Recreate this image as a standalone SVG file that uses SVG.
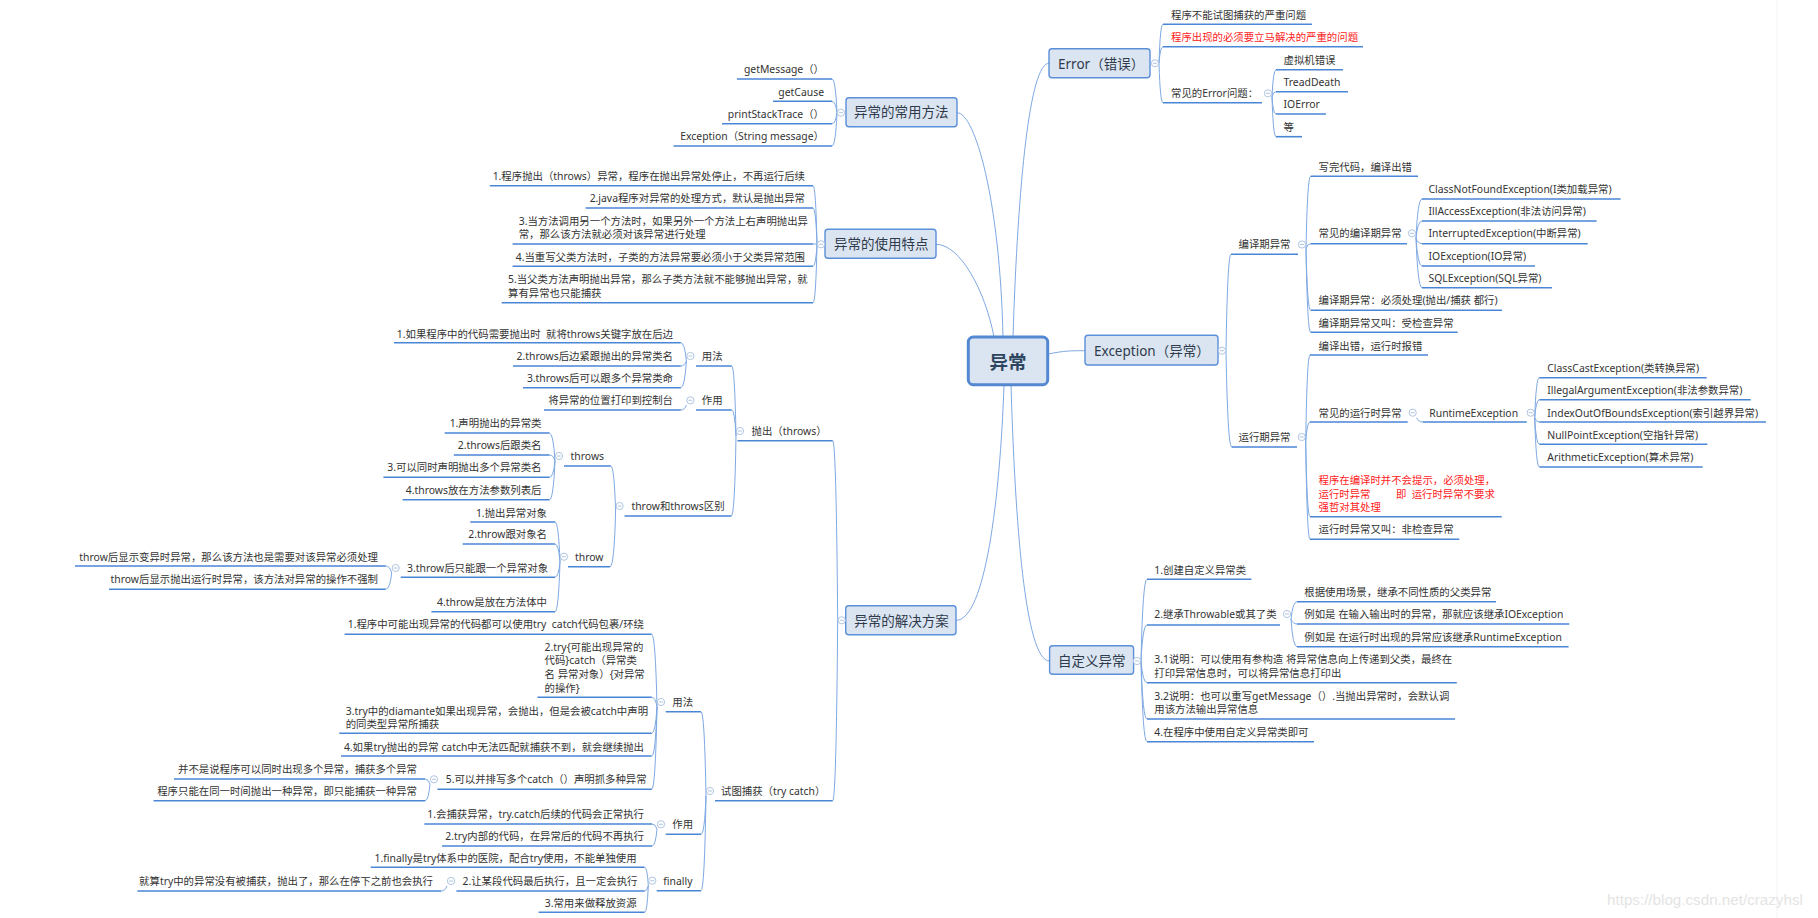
<svg xmlns="http://www.w3.org/2000/svg" xmlns:xlink="http://www.w3.org/1999/xlink" width="1818" height="918" viewBox="0 0 1818 918">
<style>
text{font-family:"Noto Sans","Noto Sans CJK SC",sans-serif;font-size:10.4px;fill:#333}
.r{fill:#ff1a1a}
.e{text-anchor:end}
.m{font-size:13.5px;fill:#2f3b4c}
.box{fill:#dbe5f1;stroke:#5b8fd9;stroke-width:1.4}
.ul{stroke:#4a86d6;stroke-width:1.6;fill:none}
.c path{stroke:#7ea9e3;stroke-width:1;fill:none}
.wm{font-family:"Liberation Sans",Arial,sans-serif;font-size:15.2px;fill:#e4e4e4}
</style>
<defs>
<g id="col"><circle r="3.6" fill="#fff" stroke="#a7bedf" stroke-width="0.9"/><line x1="-2" y1="0" x2="2" y2="0" stroke="#a7bedf" stroke-width="0.9"/></g>
</defs>
<rect width="1818" height="918" fill="#fff"/>
<line x1="1777" y1="0" x2="1777" y2="918" stroke="#f4f4f4" stroke-width="1"/>

<g id="connectors" class="c">
<path d="M957 112.7 C975 112.7 1000 200 1003 337"/>
<path d="M936 244.3 C960 244.3 985 290 994 337"/>
<path d="M1013 337 C1018 180 1030 63.3 1049 63.3"/>
<path d="M1048 354 C1065 350.7 1070 350.7 1085 350.7"/>
<path d="M1004 385 C1000 500 985 620.3 956 620.3"/>
<path d="M1011 385 C1015 520 1025 661 1049.6 661"/>
<path d="M1159 63.3 Q1160.2 24.3 1163 24.3"/>
<path d="M1159 63.3 Q1160.2 46.7 1163 46.7"/>
<path d="M1159 63.3 Q1160.2 102.7 1163 102.7"/>
<path d="M1272 97 Q1273.2 69.7 1276 69.7"/>
<path d="M1272 97 Q1273.2 91.7 1276 91.7"/>
<path d="M1272 97 Q1273.2 114 1276 114"/>
<path d="M1272 97 Q1273.2 136.7 1276 136.7"/>
<path d="M1226 350.7 Q1227.5 254.3 1231 254.3"/>
<path d="M1226 350.7 Q1227.7 447 1231.7 447"/>
<path d="M1306 249 Q1307.4 176.3 1310.6 176.3"/>
<path d="M1306 249 Q1307.4 243.7 1310.6 243.7"/>
<path d="M1306 249 Q1307.4 310.3 1310.6 310.3"/>
<path d="M1306 249 Q1307.4 332.3 1310.6 332.3"/>
<path d="M1416 238 Q1417.8 199 1422 199"/>
<path d="M1416 238 Q1417.8 221 1422 221"/>
<path d="M1416 238 Q1417.8 243.7 1422 243.7"/>
<path d="M1416 238 Q1417.8 266 1422 266"/>
<path d="M1416 238 Q1417.8 287.7 1422 287.7"/>
<path d="M1305.7 442 Q1307 355 1310 355"/>
<path d="M1305.7 442 Q1307 422 1310 422"/>
<path d="M1305.7 442 Q1307 516.7 1310 516.7"/>
<path d="M1305.7 442 Q1307 539.3 1310 539.3"/>
<path d="M1416.7 417.7 Q1418.5 422 1422.7 422"/>
<path d="M1534.7 417.7 Q1536.1 377.7 1539.3 377.7"/>
<path d="M1534.7 417.7 Q1536.1 399.7 1539.3 399.7"/>
<path d="M1534.7 417.7 Q1536.1 422 1539.3 422"/>
<path d="M1534.7 417.7 Q1536.1 444.3 1539.3 444.3"/>
<path d="M1534.7 417.7 Q1536.1 467 1539.3 467"/>
<path d="M1141 661 Q1142.8 579.3 1147 579.3"/>
<path d="M1141 661 Q1142.8 625 1147 625"/>
<path d="M1141 661 Q1142.8 682.7 1147 682.7"/>
<path d="M1141 661 Q1142.8 719 1147 719"/>
<path d="M1141 661 Q1142.8 741.7 1147 741.7"/>
<path d="M1291 619 Q1292.8 601.7 1297 601.7"/>
<path d="M1291 619 Q1292.8 624 1297 624"/>
<path d="M1291 619 Q1292.8 646.7 1297 646.7"/>
<path d="M837 112.7 Q835.5 79 832 79"/>
<path d="M837 112.7 Q835.5 101.3 832 101.3"/>
<path d="M837 112.7 Q835.5 123.7 832 123.7"/>
<path d="M837 112.7 Q835.5 146 832 146"/>
<path d="M817 244.3 Q815.8 185.7 813 185.7"/>
<path d="M817 244.3 Q815.8 208 813 208"/>
<path d="M817 244.3 Q815.8 244 813 244"/>
<path d="M817 244.3 Q815.8 266.3 813 266.3"/>
<path d="M817 244.3 Q815.8 302.7 813 302.7"/>
<path d="M837.7 620.3 Q836.2 440.7 832.7 440.7"/>
<path d="M837.7 620.3 Q836.2 800.7 832.7 800.7"/>
<path d="M736 436 Q734.7 366 731.7 366"/>
<path d="M736 436 Q734.7 410 731.7 410"/>
<path d="M736 436 Q734.7 516 731.3 516"/>
<path d="M686.4 361 Q684.7 342.7 680.8 342.7"/>
<path d="M686.4 361 Q684.7 366 680.8 366"/>
<path d="M686.4 361 Q684.7 387.7 680.8 387.7"/>
<path d="M686.4 405 Q684.7 410 680.8 410"/>
<path d="M615.6 511 Q614.2 466 610.8 466"/>
<path d="M615.6 511 Q614.2 566.7 610 566.7"/>
<path d="M555 461 Q553.3 433 549.5 433"/>
<path d="M555 461 Q553.3 455 549.5 455"/>
<path d="M555 461 Q553.3 477.3 549.5 477.3"/>
<path d="M555 461 Q553.3 499.7 549.5 499.7"/>
<path d="M560 561.7 Q558.5 522 555 522"/>
<path d="M560 561.7 Q558.5 544 555 544"/>
<path d="M560 561.7 Q558.5 577.3 555 577.3"/>
<path d="M560 561.7 Q558.5 611.7 555 611.7"/>
<path d="M391.7 573 Q389.9 566 385.7 566"/>
<path d="M391.7 573 Q389.9 589.3 385.7 589.3"/>
<path d="M706 796 Q704.5 711.7 701 711.7"/>
<path d="M706 796 Q704.5 834.3 701 834.3"/>
<path d="M706 796 Q704.5 890.7 701 890.7"/>
<path d="M657 707 Q655.4 634.3 651.7 634.3"/>
<path d="M657 707 Q655.4 697.3 651.7 697.3"/>
<path d="M657 707 Q655.4 733.3 651.7 733.3"/>
<path d="M657 707 Q655.4 756 651.7 756"/>
<path d="M657 707 Q655.4 789.3 651.7 789.3"/>
<path d="M430 784 Q428.5 779 425 779"/>
<path d="M430 784 Q428.5 800.7 425 800.7"/>
<path d="M657 829 Q655.5 824 652 824"/>
<path d="M657 829 Q655.5 846 652 846"/>
<path d="M648.3 885.7 Q647.2 867.3 644.6 867.3"/>
<path d="M648.3 885.7 Q647.2 891 644.6 891"/>
<path d="M648.3 885.7 Q647.2 912.3 644.6 912.3"/>
<path d="M447 886 Q445.2 891 441 891"/>
</g>

<g id="n-root">
<rect x="968.3" y="337" width="79.4" height="47.7" rx="5" fill="#dbe5f1" stroke="#5588d2" stroke-width="3"/>
<text x="1008" y="368.8" text-anchor="middle" style="font-size:18.5px;font-weight:700;fill:#2e4560">异常</text>
</g>

<g id="n-error"><rect class="box" x="1049" y="48.7" width="101" height="29" rx="3"/><text class="m" x="1058" y="68.5">Error（错误）</text><use xlink:href="#col" x="1155" y="63.3"/></g>
<g id="n-methods"><rect class="box" x="846" y="97.7" width="111" height="29" rx="3"/><text class="m" x="854" y="117">异常的常用方法</text><use xlink:href="#col" x="841" y="112.7"/></g>
<g id="n-features"><rect class="box" x="825" y="229.3" width="111" height="29" rx="3"/><text class="m" x="834" y="249">异常的使用特点</text><use xlink:href="#col" x="821" y="244.3"/></g>
<g id="n-exception"><rect class="box" x="1085" y="335.3" width="133" height="29.7" rx="3"/><text class="m" x="1094" y="355.7">Exception（异常）</text><use xlink:href="#col" x="1222" y="350.7"/></g>
<g id="n-solutions"><rect class="box" x="845.7" y="605.7" width="110.3" height="29" rx="3"/><text class="m" x="854.3" y="626">异常的解决方案</text><use xlink:href="#col" x="841.7" y="620.3"/></g>
<g id="n-custom"><rect class="box" x="1049.6" y="645.7" width="84" height="28.6" rx="3"/><text class="m" x="1057.9" y="666">自定义异常</text><use xlink:href="#col" x="1137" y="661"/></g>

<g id="n-e1"><text x="1171" y="18.9">程序不能试图捕获的严重问题</text><line class="ul" x1="1163" y1="24.3" x2="1312" y2="24.3"/></g>
<g id="n-e2"><text class="r" x="1171" y="40.6">程序出现的必须要立马解决的严重的问题</text><line class="ul" x1="1163" y1="46.7" x2="1363" y2="46.7"/></g>
<g id="n-e3"><text x="1171" y="97.2">常见的Error问题：</text><line class="ul" x1="1163" y1="102.7" x2="1262" y2="102.7"/><use xlink:href="#col" x="1268" y="93.3"/></g>
<g id="n-e31"><text x="1283.5" y="63.9">虚拟机错误</text><line class="ul" x1="1276" y1="69.7" x2="1343" y2="69.7"/></g>
<g id="n-e32"><text x="1283.5" y="85.6">TreadDeath</text><line class="ul" x1="1276" y1="91.7" x2="1348" y2="91.7"/></g>
<g id="n-e33"><text x="1283.5" y="107.9">IOError</text><line class="ul" x1="1276" y1="114" x2="1326" y2="114"/></g>
<g id="n-e34"><text x="1283.5" y="130.6">等</text><line class="ul" x1="1276" y1="136.7" x2="1302" y2="136.7"/></g>

<g id="n-compile"><text x="1238.5" y="248.2">编译期异常</text><line class="ul" x1="1231" y1="254.3" x2="1298" y2="254.3"/><use xlink:href="#col" x="1302" y="244.5"/></g>
<g id="n-c1"><text x="1318.5" y="170.6">写完代码，编译出错</text><line class="ul" x1="1310.6" y1="176.3" x2="1418" y2="176.3"/></g>
<g id="n-c2"><text x="1318.5" y="237.2">常见的编译期异常</text><line class="ul" x1="1310.6" y1="243.7" x2="1407" y2="243.7"/><use xlink:href="#col" x="1412" y="233.3"/></g>
<g id="n-c21"><text x="1428.5" y="192.6">ClassNotFoundException(I类加载异常)</text><line class="ul" x1="1422" y1="199" x2="1620.6" y2="199"/></g>
<g id="n-c22"><text x="1428.5" y="214.9">IllAccessException(非法访问异常)</text><line class="ul" x1="1422" y1="221" x2="1596.6" y2="221"/></g>
<g id="n-c23"><text x="1428.5" y="237.2">InterruptedException(中断异常)</text><line class="ul" x1="1422" y1="243.7" x2="1587.7" y2="243.7"/></g>
<g id="n-c24"><text x="1428.5" y="259.6">IOException(IO异常)</text><line class="ul" x1="1422" y1="266" x2="1535" y2="266"/></g>
<g id="n-c25"><text x="1428.5" y="281.9">SQLException(SQL异常)</text><line class="ul" x1="1422" y1="287.7" x2="1552" y2="287.7"/></g>
<g id="n-c3"><text x="1318.5" y="303.9">编译期异常：必须处理(抛出/捕获 都行)</text><line class="ul" x1="1310.6" y1="310.3" x2="1502" y2="310.3"/></g>
<g id="n-c4"><text x="1318.5" y="326.6">编译期异常又叫：受检查异常</text><line class="ul" x1="1310.6" y1="332.3" x2="1457.7" y2="332.3"/></g>

<g id="n-runtime"><text x="1238.5" y="440.9">运行期异常</text><line class="ul" x1="1231.7" y1="447" x2="1297" y2="447"/><use xlink:href="#col" x="1301.7" y="437"/></g>
<g id="n-r1"><text x="1318.5" y="349.9">编译出错，运行时报错</text><line class="ul" x1="1310" y1="355" x2="1428" y2="355"/></g>
<g id="n-r2"><text x="1318.5" y="416.6">常见的运行时异常</text><line class="ul" x1="1310" y1="422" x2="1407.7" y2="422"/><use xlink:href="#col" x="1412.7" y="412.7"/></g>
<g id="n-r21"><text x="1429.3" y="416.6">RuntimeException</text><line class="ul" x1="1422.7" y1="422" x2="1526.7" y2="422"/><use xlink:href="#col" x="1530.7" y="412.7"/></g>
<g id="n-r211"><text x="1547.3" y="371.6">ClassCastException(类转换异常)</text><line class="ul" x1="1539.3" y1="377.7" x2="1706.7" y2="377.7"/></g>
<g id="n-r212"><text x="1547.3" y="393.9">IllegalArgumentException(非法参数异常)</text><line class="ul" x1="1539.3" y1="399.7" x2="1750.7" y2="399.7"/></g>
<g id="n-r213"><text x="1547.3" y="416.6">IndexOutOfBoundsException(索引越界异常)</text><line class="ul" x1="1539.3" y1="422" x2="1766" y2="422"/></g>
<g id="n-r214"><text x="1547.3" y="438.6">NullPointException(空指针异常)</text><line class="ul" x1="1539.3" y1="444.3" x2="1707.3" y2="444.3"/></g>
<g id="n-r215"><text x="1547.3" y="461.2">ArithmeticException(算术异常)</text><line class="ul" x1="1539.3" y1="467" x2="1702.7" y2="467"/></g>
<g id="n-r3"><text class="r"><tspan x="1318.5" y="483.6">程序在编译时并不会提示，必须处理，</tspan><tspan x="1318.5" y="497.6">运行时异常</tspan><tspan x="1396" y="497.6">即</tspan><tspan x="1411.7" y="497.6">运行时异常不要求</tspan><tspan x="1318.5" y="511.2">强哲对其处理</tspan></text><line class="ul" x1="1310" y1="516.7" x2="1501.7" y2="516.7"/></g>
<g id="n-r4"><text x="1318.5" y="533.2">运行时异常又叫：非检查异常</text><line class="ul" x1="1310" y1="539.3" x2="1459.3" y2="539.3"/></g>

<g id="n-u1"><text x="1154.3" y="573.9">1.创建自定义异常类</text><line class="ul" x1="1147" y1="579.3" x2="1251.4" y2="579.3"/></g>
<g id="n-u2"><text x="1154.3" y="617.9">2.继承Throwable或其了类</text><line class="ul" x1="1147" y1="625" x2="1280" y2="625"/><use xlink:href="#col" x="1287" y="614"/></g>
<g id="n-u21"><text x="1304.3" y="596.2">根据使用场景，继承不同性质的父类异常</text><line class="ul" x1="1297" y1="601.7" x2="1496" y2="601.7"/></g>
<g id="n-u22"><text x="1304.3" y="617.9">例如是 在输入输出时的异常，那就应该继承IOException</text><line class="ul" x1="1297" y1="624" x2="1569.3" y2="624"/></g>
<g id="n-u23"><text x="1304.3" y="640.6">例如是 在运行时出现的异常应该继承RuntimeException</text><line class="ul" x1="1297" y1="646.7" x2="1568.6" y2="646.7"/></g>
<g id="n-u3"><text><tspan x="1154.3" y="662.9">3.1说明：可以使用有参构造 将异常信息向上传递到父类，最终在</tspan><tspan x="1154.3" y="676.6">打印异常信息时，可以将异常信息打印出</tspan></text><line class="ul" x1="1147" y1="682.7" x2="1456.8" y2="682.7"/></g>
<g id="n-u4"><text><tspan x="1154.3" y="699.9">3.2说明：也可以重写getMessage（）.当抛出异常时，会默认调</tspan><tspan x="1154.3" y="713.2">用该方法输出异常信息</tspan></text><line class="ul" x1="1147" y1="719" x2="1455" y2="719"/></g>
<g id="n-u5"><text x="1154.3" y="735.6">4.在程序中使用自定义异常类即可</text><line class="ul" x1="1147" y1="741.7" x2="1314" y2="741.7"/></g>

<g id="n-m1"><text class="e" x="824" y="73.2">getMessage（）</text><line class="ul" x1="737" y1="79" x2="832" y2="79"/></g>
<g id="n-m2"><text class="e" x="824" y="95.6">getCause</text><line class="ul" x1="773" y1="101.3" x2="832" y2="101.3"/></g>
<g id="n-m3"><text class="e" x="824" y="117.9">printStackTrace（）</text><line class="ul" x1="722" y1="123.7" x2="832" y2="123.7"/></g>
<g id="n-m4"><text class="e" x="824" y="139.9">Exception（String message）</text><line class="ul" x1="673.6" y1="146" x2="832" y2="146"/></g>

<g id="n-f1"><text class="e" x="805" y="179.6">1.程序抛出（throws）异常，程序在抛出异常处停止，不再运行后续</text><line class="ul" x1="489.8" y1="185.7" x2="813" y2="185.7"/></g>
<g id="n-f2"><text class="e" x="805" y="202.2">2.java程序对异常的处理方式，默认是抛出异常</text><line class="ul" x1="585.6" y1="208" x2="813" y2="208"/></g>
<g id="n-f3"><text><tspan x="518.7" y="224.6">3.当方法调用另一个方法时，如果另外一个方法上右声明抛出异</tspan><tspan x="518.7" y="238.2">常，那么该方法就必须对该异常进行处理</tspan></text><line class="ul" x1="512.6" y1="244" x2="813" y2="244"/></g>
<g id="n-f4"><text class="e" x="805" y="260.6">4.当重写父类方法时，子类的方法异常要必须小于父类异常范围</text><line class="ul" x1="512.6" y1="266.3" x2="813" y2="266.3"/></g>
<g id="n-f5"><text><tspan x="508" y="282.6">5.当父类方法声明抛出异常，那么子类方法就不能够抛出异常，就</tspan><tspan x="508" y="297.2">算有异常也只能捕获</tspan></text><line class="ul" x1="501.7" y1="302.7" x2="813" y2="302.7"/></g>

<g id="n-s1"><text x="751.6" y="434.9">抛出（throws）</text><line class="ul" x1="737.4" y1="440.7" x2="832.7" y2="440.7"/><use xlink:href="#col" x="740" y="431"/></g>
<g id="n-s11"><text x="701.8" y="359.9">用法</text><line class="ul" x1="696" y1="366" x2="731.7" y2="366"/><use xlink:href="#col" x="690.4" y="356"/></g>
<g id="n-s111"><text class="e" x="673" y="337.6">1.如果程序中的代码需要抛出时&#160;&#160;就将throws关键字放在后边</text><line class="ul" x1="394" y1="342.7" x2="680.8" y2="342.7"/></g>
<g id="n-s112"><text class="e" x="673" y="359.9">2.throws后边紧跟抛出的异常类名</text><line class="ul" x1="513" y1="366" x2="680.8" y2="366"/></g>
<g id="n-s113"><text class="e" x="673" y="381.9">3.throws后可以跟多个异常类命</text><line class="ul" x1="523" y1="387.7" x2="680.8" y2="387.7"/></g>
<g id="n-s12"><text x="701.8" y="404.2">作用</text><line class="ul" x1="696" y1="410" x2="731.7" y2="410"/><use xlink:href="#col" x="690.4" y="400.3"/></g>
<g id="n-s121"><text class="e" x="673" y="404.2">将异常的位置打印到控制台</text><line class="ul" x1="544" y1="410" x2="680.8" y2="410"/></g>
<g id="n-s13"><text x="631.4" y="509.9">throw和throws区别</text><line class="ul" x1="624.5" y1="516" x2="731.3" y2="516"/><use xlink:href="#col" x="619.6" y="506"/></g>
<g id="n-s131"><text x="570.6" y="459.9">throws</text><line class="ul" x1="564" y1="466" x2="610.8" y2="466"/><use xlink:href="#col" x="559" y="456"/></g>
<g id="n-s1311"><text class="e" x="541.5" y="426.6">1.声明抛出的异常类</text><line class="ul" x1="444.7" y1="433" x2="549.5" y2="433"/></g>
<g id="n-s1312"><text class="e" x="541.5" y="448.9">2.throws后跟类名</text><line class="ul" x1="453.8" y1="455" x2="549.5" y2="455"/></g>
<g id="n-s1313"><text class="e" x="541.5" y="471.2">3.可以同时声明抛出多个异常类名</text><line class="ul" x1="383.4" y1="477.3" x2="549.5" y2="477.3"/></g>
<g id="n-s1314"><text class="e" x="541.5" y="493.6">4.throws放在方法参数列表后</text><line class="ul" x1="402.6" y1="499.7" x2="549.5" y2="499.7"/></g>
<g id="n-s132"><text x="575" y="560.6">throw</text><line class="ul" x1="568" y1="566.7" x2="610" y2="566.7"/><use xlink:href="#col" x="564" y="556.7"/></g>
<g id="n-s1321"><text class="e" x="547" y="516.6">1.抛出异常对象</text><line class="ul" x1="470.3" y1="522" x2="555" y2="522"/></g>
<g id="n-s1322"><text class="e" x="547" y="538.2">2.throw跟对象名</text><line class="ul" x1="462.6" y1="544" x2="555" y2="544"/></g>
<g id="n-s1323"><text x="407" y="571.9">3.throw后只能跟一个异常对象</text><line class="ul" x1="400.7" y1="577.3" x2="555" y2="577.3"/><use xlink:href="#col" x="395.7" y="568"/></g>
<g id="n-s13231"><text class="e" x="378" y="560.6">throw后显示变异时异常，那么该方法也是需要对该异常必须处理</text><line class="ul" x1="75" y1="566" x2="385.7" y2="566"/></g>
<g id="n-s13232"><text class="e" x="378" y="583.2">throw后显示抛出运行时异常，该方法对异常的操作不强制</text><line class="ul" x1="109" y1="589.3" x2="385.7" y2="589.3"/></g>
<g id="n-s1324"><text class="e" x="547" y="605.6">4.throw是放在方法体中</text><line class="ul" x1="431.4" y1="611.7" x2="555" y2="611.7"/></g>

<g id="n-s2"><text x="721" y="794.9">试图捕获（try catch）</text><line class="ul" x1="715" y1="800.7" x2="832.7" y2="800.7"/><use xlink:href="#col" x="710" y="791"/></g>
<g id="n-s21"><text x="672.3" y="705.9">用法</text><line class="ul" x1="665.7" y1="711.7" x2="701" y2="711.7"/><use xlink:href="#col" x="661" y="702"/></g>
<g id="n-s211"><text class="e" x="644" y="628.2">1.程序中可能出现异常的代码都可以使用try&#160;&#160;catch代码包裹/环绕</text><line class="ul" x1="344.6" y1="634.3" x2="651.7" y2="634.3"/></g>
<g id="n-s212"><text><tspan x="544.6" y="650.6">2.try{可能出现异常的</tspan><tspan x="544.6" y="663.9">代码}catch（异常类</tspan><tspan x="544.6" y="677.9">名 异常对象）{对异常</tspan><tspan x="544.6" y="691.6">的操作}</tspan></text><line class="ul" x1="537.5" y1="697.3" x2="651.7" y2="697.3"/></g>
<g id="n-s213"><text><tspan x="345.7" y="714.6">3.try中的diamante如果出现异常，会抛出，但是会被catch中声明</tspan><tspan x="345.7" y="728.2">的同类型异常所捕获</tspan></text><line class="ul" x1="339.3" y1="733.3" x2="651.7" y2="733.3"/></g>
<g id="n-s214"><text class="e" x="644" y="750.6">4.如果try抛出的异常 catch中无法匹配就捕获不到，就会继续抛出</text><line class="ul" x1="341" y1="756" x2="651.7" y2="756"/></g>
<g id="n-s215"><text x="445.7" y="783.2">5.可以并排写多个catch（）声明抓多种异常</text><line class="ul" x1="437.5" y1="789.3" x2="651.7" y2="789.3"/><use xlink:href="#col" x="434" y="779.3"/></g>
<g id="n-s2151"><text class="e" x="417" y="772.9">并不是说程序可以同时出现多个异常，捕获多个异常</text><line class="ul" x1="174" y1="779" x2="425" y2="779"/></g>
<g id="n-s2152"><text class="e" x="417" y="794.6">程序只能在同一时间抛出一种异常，即只能捕获一种异常</text><line class="ul" x1="153.6" y1="800.7" x2="425" y2="800.7"/></g>
<g id="n-s22"><text x="672.3" y="828.2">作用</text><line class="ul" x1="665.7" y1="834.3" x2="701" y2="834.3"/><use xlink:href="#col" x="661" y="824.3"/></g>
<g id="n-s221"><text class="e" x="644" y="817.9">1.会捕获异常，try.catch后续的代码会正常执行</text><line class="ul" x1="424.3" y1="824" x2="652" y2="824"/></g>
<g id="n-s222"><text class="e" x="644" y="839.9">2.try内部的代码，在异常后的代码不再执行</text><line class="ul" x1="442" y1="846" x2="652" y2="846"/></g>
<g id="n-s23"><text x="663.3" y="884.6">finally</text><line class="ul" x1="656.7" y1="890.7" x2="701" y2="890.7"/><use xlink:href="#col" x="652.3" y="880.7"/></g>
<g id="n-s231"><text class="e" x="636.6" y="862.2">1.finally是try体系中的医院，配合try使用，不能单独使用</text><line class="ul" x1="370.7" y1="867.3" x2="644.6" y2="867.3"/></g>
<g id="n-s232"><text x="462.5" y="884.9">2.让某段代码最后执行，且一定会执行</text><line class="ul" x1="456.4" y1="891" x2="644.6" y2="891"/><use xlink:href="#col" x="451" y="881"/></g>
<g id="n-s2321"><text class="e" x="433" y="884.9">就算try中的异常没有被捕获，抛出了，那么在停下之前也会执行</text><line class="ul" x1="137.5" y1="891" x2="441" y2="891"/></g>
<g id="n-s233"><text class="e" x="636.6" y="906.6">3.常用来做释放资源</text><line class="ul" x1="538.6" y1="912.3" x2="644.6" y2="912.3"/></g>

<text class="wm" x="1607" y="905">https://blog.csdn.net/crazyhsl</text>
</svg>
